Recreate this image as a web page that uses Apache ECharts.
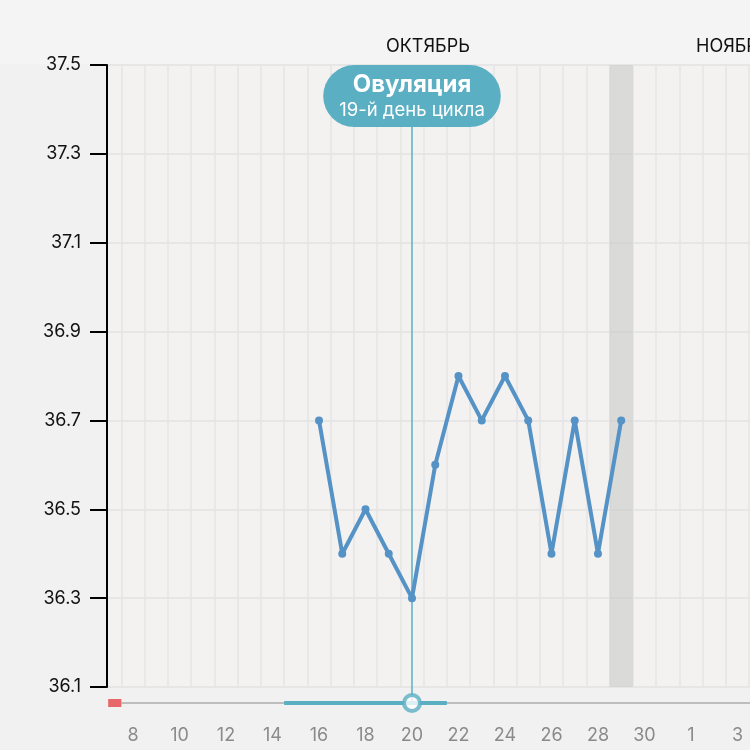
<!DOCTYPE html>
<html><head><meta charset="utf-8">
<script src="https://cdn.jsdelivr.net/npm/echarts@6/dist/echarts.min.js"></script>
<style>html,body{margin:0;padding:0;background:#f1f1f1}#c{width:750px;height:750px}</style>
</head><body><div id="c"></div>
<script>
// ---- data ----
const days = [16,17,18,19,20,21,22,23,24,25,26,27,28,29];
const temps = [36.7,36.4,36.5,36.4,36.3,36.6,36.8,36.7,36.8,36.7,36.4,36.7,36.4,36.7];
const dayLabelValues = [8,10,12,14,16,18,20,22,24,26,28,30,32,34];
const daysInOctober = 31;
const dayBoundaries = [7.5,8.5,9.5,10.5,11.5,12.5,13.5,14.5,15.5,16.5,17.5,18.5,19.5,20.5,21.5,22.5,23.5,24.5,25.5,26.5,27.5,28.5,29.5,30.5,31.5,32.5,33.5,34.5];
const tempMin = 36.1, tempMax = 37.5, tempStep = 0.2;
const ovulationDay = 20;
const ovulationTitle = 'Овуляция';
const ovulationSub = '19-й день цикла';
const highlightDay = 29;
const periodRange = [6.93, 7.5];
const fertileRange = [14.5, 21.5];
const cycleRange = [7.5, 36];
const monthNames = ['ОКТЯБРЬ', 'НОЯБРЬ'];

// ---- styles ----
const TEAL = '#5aafc3';
const BLUE = '#5592c6';
const FONT = 'Inter, "Noto Sans", sans-serif';
const xMin = 6.88, xMax = 34.54;

const chart = echarts.init(document.getElementById('c'), null, {renderer:'canvas'});
const option = {
  animation: false,
  backgroundColor: '#f1f1f1',
  graphic: [
    {type:'rect', left:0, top:0, shape:{width:750, height:64}, style:{fill:'#f4f4f4'}, z:-1},
    {type:'text', left:386, top:38, style:{text: monthNames[0], fill:'#111', font:'18px ' + FONT}},
    {type:'text', left:696, top:38, style:{text: monthNames[1], fill:'#111', font:'18px ' + FONT}}
  ],
  grid: [
    {left:107, right:0, top:65, bottom:63, show:true, backgroundColor:'#f3f2f1', borderWidth:0},
    {left:107, right:0, top:687, height:32, show:false}
  ],
  xAxis: [
    {type:'value', gridIndex:0, min:xMin, max:xMax,
     axisLine:{show:false},
     axisTick:{show:false, customValues: dayBoundaries},
     splitLine:{show:true, lineStyle:{color:'#e5e5e5', width:1.5}},
     axisLabel:{customValues: dayLabelValues, color:'#8a8a8a', fontSize:18, margin:40, fontFamily:FONT,
       formatter: v => String(v > daysInOctober ? v - daysInOctober : v)}},
    {type:'value', gridIndex:1, min:xMin, max:xMax, show:false}
  ],
  yAxis: [
    {type:'value', gridIndex:0, min:tempMin, max:tempMax, interval:tempStep,
     axisLine:{show:true, lineStyle:{color:'#000', width:2}},
     axisTick:{show:true, length:17, lineStyle:{color:'#000', width:2}},
     axisLabel:{color:'#111', fontSize:18, margin:26, fontFamily:FONT, formatter: v => v.toFixed(1)},
     splitLine:{show:true, lineStyle:{color:'#e2e2e2', width:1.5}}},
    {type:'value', gridIndex:1, min:0, max:1, show:false}
  ],
  series: [
    {type:'line', xAxisIndex:0, yAxisIndex:0, data: days.map((d,i)=>[d,temps[i]]),
     symbol:'circle', symbolSize:8, showSymbol:true,
     lineStyle:{color:BLUE, width:4}, itemStyle:{color:BLUE}, z:5,
     markArea:{silent:true, itemStyle:{color:'rgba(205,205,205,0.65)'},
       data:[[{xAxis: highlightDay-0.5},{xAxis: highlightDay+0.5}]]},
     markLine:{silent:true, symbol:['none','none'], label:{show:false},
       lineStyle:{color:TEAL, width:1.5, type:'solid'}, data:[{xAxis: ovulationDay}]}
    },
    {type:'scatter', xAxisIndex:0, yAxisIndex:0, data:[], z:10,
     markPoint:{silent:true, symbol:'circle', symbolSize:0,
       data:[{coord:[ovulationDay, 37.43]}],
       label:{show:true, position:'inside', backgroundColor:TEAL, borderRadius:31, padding:[5,16,5,16],
         formatter: '{t|' + ovulationTitle + '}\n{s|' + ovulationSub + '}',
         rich:{t:{color:'#fff', fontSize:24, fontWeight:'bold', fontFamily:FONT, lineHeight:29, align:'center'},
               s:{color:'#fff', fontSize:18.5, fontFamily:FONT, lineHeight:23, align:'center'}}}}
    },
    {type:'line', xAxisIndex:1, yAxisIndex:1, data: cycleRange.map(x=>[x,0.5]), symbol:'none',
     lineStyle:{color:'#bdbdbd', width:2}, z:2},
    {type:'line', xAxisIndex:1, yAxisIndex:1, data: periodRange.map(x=>[x,0.5]), symbol:'none',
     lineStyle:{color:'#e8686a', width:8}, z:3},
    {type:'line', xAxisIndex:1, yAxisIndex:1, data: fertileRange.map(x=>[x,0.5]), symbol:'none',
     lineStyle:{color:TEAL, width:4}, z:3},
    {type:'line', xAxisIndex:1, yAxisIndex:1, data: [[ovulationDay,0.5],[ovulationDay,1]], symbol:'none',
     lineStyle:{color:TEAL, width:1.5}, z:3},
    {type:'scatter', xAxisIndex:1, yAxisIndex:1, data: [[ovulationDay,0.5]], symbol:'circle', symbolSize:16,
     itemStyle:{color:'#fff', borderColor:TEAL, borderWidth:4}, z:6}
  ]
};
chart.setOption(option);
</script></body></html>
